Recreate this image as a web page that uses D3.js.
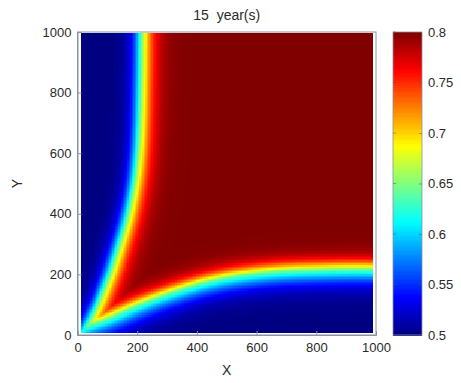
<!DOCTYPE html>
<html>
<head>
<meta charset="utf-8">
<script src="https://cdn.jsdelivr.net/npm/d3@7"></script>
<style>
  html, body { margin: 0; padding: 0; background: #fff; }
  svg { display: block; font-family: "Liberation Sans", Arial, sans-serif; }
</style>
</head>
<body>
<svg id="chart" width="461" height="383"></svg>
<script>
// ---------- data ----------
const titleText = "15  year(s)";
const xTicks = [0, 200, 400, 600, 800, 1000];
const yTicks = [0, 200, 400, 600, 800, 1000];
const colorTicks = [0.5, 0.55, 0.6, 0.65, 0.7, 0.75, 0.8];
const valueRange = [0.5, 0.8];

// left front (mid-value contour): x position for each y
const leftFrontY = [0, 30, 100, 200, 300, 400, 500, 600, 700, 800, 900, 1000];
const leftFrontX = [16, 33, 70, 110, 143, 172, 192, 204, 210, 213, 215, 216];
// bottom front (mid-value contour): y position for each x
const bottomFrontX = [0, 30, 100, 200, 300, 400, 500, 600, 700, 800, 900, 1000];
const bottomFrontY = [16, 33, 57, 100, 138, 170, 193, 207, 215, 218, 220, 220];
// transition widths of the fronts (data units): [low-value side, high-value side]
const leftFrontWidth = [18, 24];
const bottomFrontWidth = [28, 18];
// extent of the image grid (data units) and grid step
const gridX = [12, 988];
const gridY = [8, 998];
const gridStep = 5;

// ---------- layout ----------
const svg = d3.select("#chart");
const x = d3.scaleLinear().domain([0, 1000]).range([77.5, 376]);
const y = d3.scaleLinear().domain([0, 1000]).range([335, 32]);
const cbY = d3.scaleLinear().domain(valueRange).range([335, 32]);
const cbX0 = 393, cbX1 = 422;

function jet(t) {
  const c = v => Math.max(0, Math.min(1, v));
  const r = c(1.5 - Math.abs(4 * t - 3));
  const g = c(1.5 - Math.abs(4 * t - 2));
  const b = c(1.5 - Math.abs(4 * t - 1));
  return d3.rgb(r * 255, g * 255, b * 255).toString();
}
const toT = d3.scaleLinear().domain(valueRange).range([0, 1]).clamp(true);
const color = v => jet(toT(v));

// ---------- smooth fronts (Catmull-Rom through the read points) ----------
function smooth(pts, sub) {
  const out = [];
  const n = pts.length;
  for (let i = 0; i < n - 1; i++) {
    const p0 = pts[Math.max(0, i - 1)], p1 = pts[i], p2 = pts[i + 1], p3 = pts[Math.min(n - 1, i + 2)];
    for (let k = 0; k < sub; k++) {
      const t = k / sub, t2 = t * t, t3 = t2 * t;
      const f = (a, b, c, d) => 0.5 * (2 * b + (-a + c) * t + (2 * a - 5 * b + 4 * c - d) * t2 + (-a + 3 * b - 3 * c + d) * t3);
      out.push([f(p0[0], p1[0], p2[0], p3[0]), f(p0[1], p1[1], p2[1], p3[1])]);
    }
  }
  out.push(pts[n - 1]);
  return out;
}
const leftPts = smooth(leftFrontY.map((yy, i) => [leftFrontX[i], yy]), 8);
const botPts = smooth(bottomFrontX.map((xx, i) => [xx, bottomFrontY[i]]), 8);
const leftAt = d3.scaleLinear().domain(leftPts.map(p => p[1])).range(leftPts.map(p => p[0]));
const botAt = d3.scaleLinear().domain(botPts.map(p => p[0])).range(botPts.map(p => p[1]));

function distToPolyline(px, py, pts) {
  let best = Infinity;
  for (let i = 0; i < pts.length - 1; i++) {
    const [ax, ay] = pts[i], [bx, by] = pts[i + 1];
    const dx = bx - ax, dy = by - ay;
    const L = dx * dx + dy * dy;
    let u = L > 0 ? ((px - ax) * dx + (py - ay) * dy) / L : 0;
    u = Math.max(0, Math.min(1, u));
    const qx = ax + u * dx - px, qy = ay + u * dy - py;
    const dd = qx * qx + qy * qy;
    if (dd < best) best = dd;
  }
  return Math.sqrt(best);
}
function profile(d, w) {
  const s = d >= 0 ? w[1] : w[0];
  return 1 / (1 + Math.exp(-d / s));
}

const cells = [];
for (let gx = gridX[0]; gx < gridX[1]; gx += gridStep) {
  for (let gy = gridY[0]; gy < gridY[1]; gy += gridStep) {
    const cx = gx + gridStep / 2, cy = gy + gridStep / 2;
    const dl = distToPolyline(cx, cy, leftPts) * (cx >= leftAt(cy) ? 1 : -1);
    const db = distToPolyline(cx, cy, botPts) * (cy >= botAt(cx) ? 1 : -1);
    const t = Math.min(profile(dl, leftFrontWidth), profile(db, bottomFrontWidth));
    const v = valueRange[0] + t * (valueRange[1] - valueRange[0]);
    cells.push({ x0: gx, x1: Math.min(gx + gridStep, gridX[1]), y0: gy, y1: Math.min(gy + gridStep, gridY[1]), v });
  }
}

svg.append("g").attr("shape-rendering", "crispEdges")
  .selectAll("rect").data(cells).join("rect")
  .attr("x", d => x(d.x0))
  .attr("y", d => y(d.y1))
  .attr("width", d => x(d.x1) - x(d.x0) + 0.6)
  .attr("height", d => y(d.y0) - y(d.y1) + 0.6)
  .attr("fill", d => color(d.v));

// ---------- axes ----------
const axisColor = "#8a92a0";
const textColor = "#2a2a2a";
const frame = svg.append("g");
frame.append("rect")
  .attr("x", x(0)).attr("y", y(1000))
  .attr("width", x(1000) - x(0)).attr("height", y(0) - y(1000))
  .attr("fill", "none").attr("stroke", axisColor).attr("stroke-width", 1);

const xAxis = svg.append("g").attr("transform", `translate(0,${y(0)})`)
  .call(d3.axisBottom(x).tickValues(xTicks).tickSize(-4).tickPadding(8).tickFormat(d3.format("d")));
const yAxis = svg.append("g").attr("transform", `translate(${x(0)},0)`)
  .call(d3.axisLeft(y).tickValues(yTicks).tickSize(-4).tickPadding(6).tickFormat(d3.format("d")));
[xAxis, yAxis].forEach(a => {
  a.select(".domain").attr("stroke", axisColor);
  a.selectAll(".tick line").attr("stroke", axisColor);
  a.selectAll(".tick text").attr("fill", textColor).attr("font-size", 13)
    .attr("font-family", "Liberation Sans, Arial, sans-serif");
});

// ---------- colorbar ----------
const cbN = 120;
const cbStepH = (valueRange[1] - valueRange[0]) / cbN;
const cbSteps = d3.range(0, cbN).map(i => valueRange[0] + i * cbStepH);
svg.append("g").attr("shape-rendering", "crispEdges")
  .selectAll("rect").data(cbSteps).join("rect")
  .attr("x", cbX0).attr("width", cbX1 - cbX0)
  .attr("y", d => cbY(d + cbStepH))
  .attr("height", d => cbY(d) - cbY(d + cbStepH) + 0.6)
  .attr("fill", d => color(d + cbStepH / 2));
svg.append("rect").attr("x", cbX0).attr("y", cbY(0.8)).attr("width", cbX1 - cbX0)
  .attr("height", cbY(0.5) - cbY(0.8)).attr("fill", "none").attr("stroke", axisColor).attr("stroke-width", 0.8);
const cbAxis = svg.append("g").attr("transform", `translate(${cbX1},0)`)
  .call(d3.axisRight(cbY).tickValues(colorTicks).tickSize(-3).tickPadding(6).tickFormat(d => String(+d.toFixed(2))));
cbAxis.select(".domain").remove();
cbAxis.selectAll(".tick line").attr("stroke", "#555").attr("stroke-opacity", 0.5);
cbAxis.selectAll(".tick text").attr("fill", textColor).attr("font-size", 13)
  .attr("font-family", "Liberation Sans, Arial, sans-serif");
svg.append("g").selectAll("line").data(colorTicks).join("line")
  .attr("x1", cbX0).attr("x2", cbX0 + 3).attr("y1", d => cbY(d)).attr("y2", d => cbY(d))
  .attr("stroke", "#555").attr("stroke-opacity", 0.5);

// ---------- titles ----------
svg.append("text").attr("x", (x(0) + x(1000)) / 2).attr("y", 20)
  .attr("text-anchor", "middle").attr("font-size", 14).attr("fill", textColor)
  .style("white-space", "pre").text(titleText);
svg.append("text").attr("x", (x(0) + x(1000)) / 2).attr("y", 375)
  .attr("text-anchor", "middle").attr("font-size", 14).attr("fill", textColor).text("X");
svg.append("text").attr("transform", `translate(22,${(y(0) + y(1000)) / 2}) rotate(-90)`)
  .attr("text-anchor", "middle").attr("font-size", 14).attr("fill", textColor).text("Y");
</script>
</body>
</html>
